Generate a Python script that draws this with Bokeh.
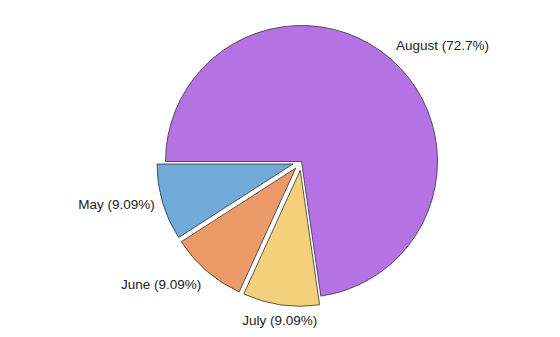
import math
from bokeh.plotting import figure
from bokeh.models import ColumnDataSource, Range1d
from bokeh.embed import file_html
from bokeh.resources import INLINE
from bokeh.core.properties import value

months = ["May", "June", "July", "August"]
counts = [1, 1, 1, 8]
colors = ["#6faad9", "#eb9a68", "#f4d07c", "#b472e4"]
explode = [0.065, 0.065, 0.065, 0.0]

total = sum(counts)
R = 1.0
cx_px, cy_px, r_px = 301.0, 161.0, 136.0
W, H = 560, 337

start = math.pi
xs, ys, sa, ea, labels, lx, ly, align, base = [], [], [], [], [], [], [], [], []
a = start
for m, c, e in zip(months, counts, explode):
    frac = c / total
    a2 = a + frac * 2 * math.pi
    mid = (a + a2) / 2
    xs.append(e * math.cos(mid))
    ys.append(e * math.sin(mid))
    sa.append(a)
    ea.append(a2)
    pct = frac * 100
    labels.append(f"{m} ({pct:.3g}%)")
    lr = 1.06 + e
    cm, sm = math.cos(mid), math.sin(mid)
    lx.append(lr * cm)
    ly.append(lr * sm)
    align.append("left" if cm > 0.3 else ("right" if cm < -0.3 else "center"))
    base.append("top" if sm < -0.5 else ("bottom" if sm > 0.5 else "middle"))
    a = a2

src = ColumnDataSource(dict(x=xs, y=ys, sa=sa, ea=ea, color=colors))
lsrc = ColumnDataSource(dict(x=lx, y=ly, text=labels, align=align, base=base))

p = figure(width=W, height=H, output_backend="svg", toolbar_location=None,
           x_range=Range1d(-cx_px / r_px, (W - cx_px) / r_px),
           y_range=Range1d(-(H - cy_px) / r_px, cy_px / r_px),
           min_border=0)
p.axis.visible = False
p.grid.visible = False
p.outline_line_color = None
p.background_fill_color = "white"

p.wedge(x="x", y="y", radius=R, start_angle="sa", end_angle="ea",
        direction="anticlock", fill_color="color", line_color="#333333",
        line_width=0.8, source=src)

p.text(x="x", y="y", text="text", text_align="align", text_baseline="base",
       text_font=value("Liberation Sans"), text_font_size="13.5px",
       text_color="#222222", source=lsrc)

open("out.html", "w").write(file_html(p, INLINE))
